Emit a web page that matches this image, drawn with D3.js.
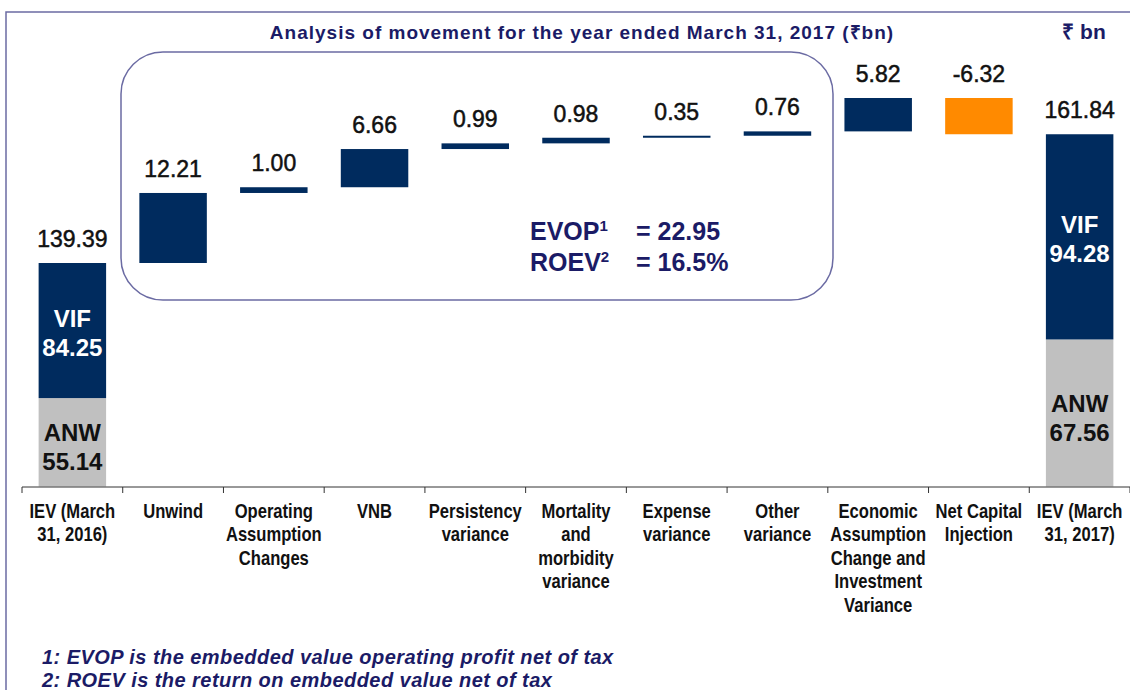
<!DOCTYPE html>
<html>
<head>
<meta charset="utf-8">
<script src="https://cdn.jsdelivr.net/npm/d3@7"></script>
<style>
  html, body { margin: 0; padding: 0; background: #fff; }
  svg { display: block; }
</style>
</head>
<body>
<svg id="chart" width="1130" height="690"></svg>
<script>
// ---------- DATA ----------
const categories = [
  "IEV (March\n31, 2016)", "Unwind", "Operating\nAssumption\nChanges", "VNB",
  "Persistency\nvariance", "Mortality\nand\nmorbidity\nvariance", "Expense\nvariance",
  "Other\nvariance", "Economic\nAssumption\nChange and\nInvestment\nVariance",
  "Net Capital\nInjection", "IEV (March\n31, 2017)"
];
// movement values (first and last are totals)
const values = [139.39, 12.21, 1.00, 6.66, 0.99, 0.98, 0.35, 0.76, 5.82, -6.32, 161.84];
const valueLabels = ["139.39", "12.21", "1.00", "6.66", "0.99", "0.98", "0.35", "0.76", "5.82", "-6.32", "161.84"];
const barKinds = ["total", "step", "step", "step", "step", "step", "step", "step", "step", "step", "total"];
// composition of the total bars
const totalANW = [55.14, 67.56];
const totalVIF = [84.25, 94.28];
const anwLabels = ["55.14", "67.56"];
const vifLabels = ["84.25", "94.28"];
const evopLines = [["EVOP", "1", "22.95"], ["ROEV", "2", "16.5%"]];
const footnotes = [
  "1: EVOP is the embedded value operating profit net of tax",
  "2: ROEV is the return on embedded value net of tax"
];
const title = "Analysis of movement for the year ended March 31, 2017 (\u20B9bn)";
const unitLabel = "\u20B9 bn";

// ---------- STYLE ----------
const NAVY = "#002b5e";
const ORANGE = "#ff8a00";
const GRAY = "#c0c0c0";
const TEXTNAVY = "#1b1b66";
const FRAME = "#6b6ba3";
const sans = "'Liberation Sans', Arial, Helvetica, sans-serif";

const svg = d3.select("#chart");

// frame
svg.append("rect").attr("x", 6).attr("y", 12).attr("width", 1200).attr("height", 800)
  .attr("fill", "none").attr("stroke", FRAME).attr("stroke-width", 1.5);

// ---------- compute waterfall ----------
const bars = [];
let running = 0;
values.forEach((v, i) => {
  if (barKinds[i] === "total") {
    bars.push({i, start: 0, end: v, v});
    running = v;
  } else {
    bars.push({i, start: running, end: running + v, v});
    running += v;
  }
});
const peak = d3.max(bars, d => Math.max(d.start, d.end));

// ---------- scales ----------
const baseY = 486.5;
const x = d3.scaleBand().domain(d3.range(categories.length))
  .range([22, 1130]).paddingInner(0.33).paddingOuter(0.165);
// broken (piecewise) value axis: lower part compressed, upper part expanded
const y = d3.scaleLinear().domain([0, values[0], peak]).range([baseY, 263, 98]);

// ---------- rounded box for EVOP ----------
svg.append("rect").attr("x", 121).attr("y", 52).attr("width", 712).attr("height", 248)
  .attr("rx", 42).attr("ry", 42).attr("fill", "none").attr("stroke", FRAME).attr("stroke-width", 1.5);

// ---------- bars ----------
const g = svg.append("g");
bars.forEach(d => {
  const bx = x(d.i), bw = x.bandwidth();
  if (barKinds[d.i] === "total") {
    const k = d.i === 0 ? 0 : 1;
    const top = y(d.end);
    const inner = d3.scaleLinear().domain([0, d.end]).range([y(0), top]);
    const split = inner(totalANW[k]);
    g.append("rect").attr("x", bx).attr("y", split).attr("width", bw)
      .attr("height", y(0) - split).attr("fill", GRAY);
    g.append("rect").attr("x", bx).attr("y", top).attr("width", bw)
      .attr("height", split - top).attr("fill", NAVY);
    const cx = bx + bw / 2;
    const vifMid = (top + split) / 2, anwMid = (split + y(0)) / 2;
    [["VIF", vifLabels[k], vifMid, "#fff"], ["ANW", anwLabels[k], anwMid + 3, "#111"]].forEach(([a, b, mid, col]) => {
      const t = g.append("text").attr("x", cx).attr("text-anchor", "middle")
        .attr("font-family", sans).attr("font-weight", "bold").attr("font-size", 24).attr("fill", col);
      t.append("tspan").attr("x", cx).attr("y", mid - 4).text(a);
      t.append("tspan").attr("x", cx).attr("y", mid + 25).text(b);
    });
  } else {
    const y0 = y(Math.max(d.start, d.end)), y1 = y(Math.min(d.start, d.end));
    g.append("rect").attr("x", bx).attr("y", y0).attr("width", bw)
      .attr("height", Math.max(1.5, y1 - y0)).attr("fill", d.v < 0 ? ORANGE : NAVY);
  }
  const topY = y(Math.max(d.start, d.end));
  g.append("text").attr("x", bx + x.bandwidth() / 2).attr("y", topY - 16)
    .attr("text-anchor", "middle").attr("font-family", sans).attr("font-size", 23)
    .attr("fill", "#111").attr("stroke", "#111").attr("stroke-width", 0.5)
    .text(valueLabels[d.i]);
});

// ---------- x axis ----------
const step = x.step();
const axisG = svg.append("g");
axisG.append("line").attr("x1", 22).attr("x2", 1130).attr("y1", 487).attr("y2", 487)
  .attr("stroke", "#333").attr("stroke-width", 1);
const boundaries = d3.range(categories.length + 1).map(i =>
  i < categories.length ? x(i) - step * x.paddingInner() / 2 : x(i - 1) + x.bandwidth() + step * x.paddingInner() / 2);
boundaries.forEach(bx => {
  axisG.append("line").attr("x1", bx).attr("x2", bx).attr("y1", 487).attr("y2", 493)
    .attr("stroke", "#333").attr("stroke-width", 1);
});
categories.forEach((c, i) => {
  const cx = x(i) + x.bandwidth() / 2;
  const t = axisG.append("text").attr("text-anchor", "middle").attr("font-family", sans)
    .attr("font-weight", "bold").attr("font-size", 20).attr("fill", "#111")
    .attr("transform", `translate(${cx},0) scale(0.83,1)`);
  c.split("\n").forEach((line, j) => {
    t.append("tspan").attr("x", 0).attr("y", 518 + j * 23.5).text(line);
  });
});

// ---------- titles ----------
svg.append("text").attr("x", 582).attr("y", 39).attr("text-anchor", "middle")
  .attr("font-family", sans).attr("font-weight", "bold").attr("font-size", 19)
  .attr("letter-spacing", 1).attr("fill", TEXTNAVY).text(title);
svg.append("text").attr("x", 1084).attr("y", 39).attr("text-anchor", "middle")
  .attr("font-family", sans).attr("font-weight", "bold").attr("font-size", 21)
  .attr("fill", TEXTNAVY).text(unitLabel);

// ---------- EVOP / ROEV ----------
evopLines.forEach((l, j) => {
  const yy = 240 + j * 31;
  const t = svg.append("text").attr("x", 530).attr("y", yy).attr("font-family", sans)
    .attr("font-weight", "bold").attr("font-size", 25).attr("fill", TEXTNAVY);
  t.append("tspan").text(l[0]);
  t.append("tspan").attr("dy", -9).attr("font-size", 15).text(l[1]);
  svg.append("text").attr("x", 636).attr("y", yy).attr("font-family", sans)
    .attr("font-weight", "bold").attr("font-size", 25).attr("fill", TEXTNAVY)
    .text("= " + l[2]);
});

// ---------- footnotes ----------
footnotes.forEach((f, j) => {
  svg.append("text").attr("x", 42).attr("y", 664 + j * 23).attr("font-family", sans)
    .attr("font-weight", "bold").attr("font-style", "italic").attr("font-size", 20)
    .attr("letter-spacing", 0.45).attr("fill", TEXTNAVY).text(f);
});
</script>
</body>
</html>
